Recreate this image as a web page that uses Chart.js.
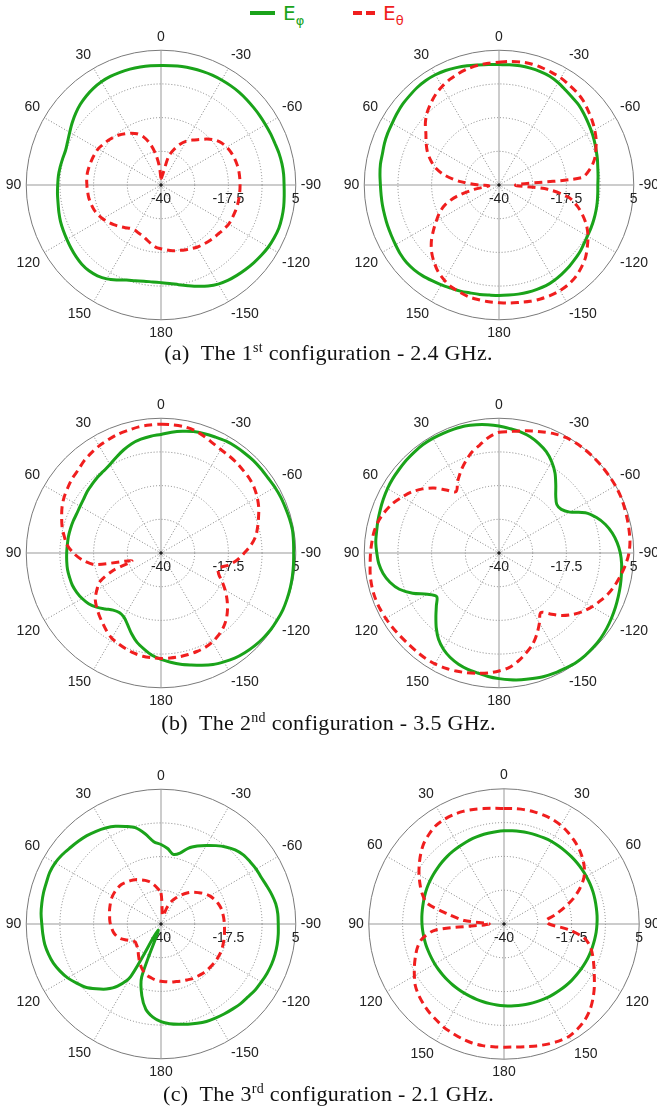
<!DOCTYPE html>
<html>
<head>
<meta charset="utf-8">
<script src="https://cdn.jsdelivr.net/npm/chart.js@4.4.0/dist/chart.umd.min.js"></script>
<style>
  body { margin: 0; background: #fff; }
  #page { position: relative; width: 657px; height: 1117px; overflow: hidden; background: #fff; }
  .plot { position: absolute; width: 320px; height: 320px; }
  .caption { position: absolute; left: 0; width: 657px; text-align: center;
             font-family: 'Liberation Serif', serif; font-size: 22px; letter-spacing: 0.3px;
             color: #111; line-height: 24px; }
  .caption sup { font-size: 14px; line-height: 0; }
  .lg-line { position: absolute; height: 4px; }
  .lg-text { position: absolute; top: 2px; font-family: 'DejaVu Sans', sans-serif; font-size: 20px; line-height: 22px; }
  .lg-text sub { font-size: 13px; line-height: 0; }
</style>
</head>
<body>
<div id="page">
  <!-- legend -->
  <div class="lg-line" style="left:250px; top:11px; width:25px; background:#1aa31a;"></div>
  <div class="lg-text" style="left:283px; color:#1aa31a;">E<sub>φ</sub></div>
  <div class="lg-line" style="left:353px; top:11px; width:9px; background:#f01e1e;"></div>
  <div class="lg-line" style="left:366px; top:11px; width:9px; background:#f01e1e;"></div>
  <div class="lg-text" style="left:383px; color:#f01e1e;">E<sub>θ</sub></div>

  <div class="plot" style="left:4px; top:26px;"><canvas id="a1" width="320" height="320"></canvas></div>
  <div class="plot" style="left:342px; top:26px;"><canvas id="a2" width="320" height="320"></canvas></div>
  <div class="caption" style="top:341px;">(a)&nbsp; The 1<sup>st</sup> configuration - 2.4 GHz.</div>

  <div class="plot" style="left:4px; top:394px;"><canvas id="b1" width="320" height="320"></canvas></div>
  <div class="plot" style="left:342px; top:394px;"><canvas id="b2" width="320" height="320"></canvas></div>
  <div class="caption" style="top:711px;">(b)&nbsp; The 2<sup>nd</sup> configuration - 3.5 GHz.</div>

  <div class="plot" style="left:4px; top:765px;"><canvas id="c1" width="320" height="320"></canvas></div>
  <div class="plot" style="left:344px; top:765px;"><canvas id="c2" width="320" height="320"></canvas></div>
  <div class="caption" style="top:1082px;">(c)&nbsp; The 3<sup>rd</sup> configuration - 2.1 GHz.</div>
</div>

<script>
// Angle tick labels, every 30 deg, going clockwise from the top
const angleTicks = ['0', '-30', '-60', '-90', '-120', '-150', '180', '150', '120', '90', '60', '30'];
const angleTicksSym = ['0', '30', '60', '90', '120', '150', '180', '150', '120', '90', '60', '30'];

// Radial scale (dB)
const rMin = -40;
const rMax = 5;
const rStep = 11.25;
const radialTicks = [-40, -17.5, 5];

// Pattern data in dB, one value every 5 deg, clockwise from the top
const ephiA1 = [-0.1,0.0,0.2,0.3,0.4,0.5,0.5,0.5,0.5,0.4,0.3,0.3,0.3,0.4,0.5,0.8,1.0,1.1,1.1,1.3,1.6,1.8,1.9,1.7,1.4,0.9,0.4,-0.1,-0.6,-1.1,-1.8,-2.8,-4.0,-5.2,-6.2,-7.0,-7.4,-7.5,-7.4,-6.9,-6.2,-5.0,-3.8,-3.0,-2.6,-2.6,-2.9,-3.3,-3.7,-4.0,-4.3,-4.7,-5.1,-5.3,-5.5,-5.6,-5.8,-6.0,-6.1,-5.6,-4.8,-3.8,-2.8,-1.9,-1.2,-0.6,-0.2,0.0,0.05,0.05,0.0,-0.05];
const ethetaA1 = [-37.75,-37.5,-36.1,-30.1,-27.4,-25.0,-23.1,-21.7,-20.2,-18.3,-16.6,-15.4,-14.7,-14.2,-13.9,-13.7,-13.6,-13.6,-13.6,-13.6,-13.6,-13.6,-13.7,-13.8,-13.9,-14.35,-14.8,-15.1,-15.4,-15.7,-16.0,-16.5,-16.9,-17.4,-17.7,-18.2,-18.7,-19.2,-20.2,-21.2,-22.0,-22.3,-22.6,-22.3,-21.4,-20.4,-19.4,-18.4,-17.5,-16.7,-16.15,-15.8,-15.5,-15.4,-15.25,-15.1,-15.1,-15.25,-15.4,-15.6,-15.8,-16.4,-16.9,-17.5,-18.2,-19.1,-20.0,-21.1,-22.9,-25.6,-29.3,-33.8];

const ephiA2 = [0.2,0.3,0.4,0.4,0.3,0.1,-0.5,-1.3,-1.9,-2.3,-3.0,-3.7,-4.3,-4.9,-5.5,-6.0,-6.5,-6.8,-7.0,-6.9,-6.7,-6.5,-6.3,-6.1,-5.9,-5.5,-4.9,-4.5,-4.0,-3.6,-3.2,-2.9,-2.9,-2.9,-3.0,-3.1,-3.1,-3.1,-2.9,-2.7,-2.3,-2.0,-1.5,-1.0,-0.4,0.05,0.3,0.2,-0.1,-0.3,-0.4,-0.5,-0.5,-0.5,-0.4,-0.1,0.2,0.3,0.7,1.0,1.2,1.6,2.0,2.2,2.5,2.6,2.5,2.2,1.7,1.2,0.7,0.4];
const ethetaA2 = [1.0,1.4,1.7,1.85,1.7,1.5,1.3,0.8,0.4,-0.2,-1.2,-2.1,-3.1,-4.2,-5.6,-7.0,-9.1,-12.4,-34.4,-23.7,-16.4,-13.0,-10.2,-7.7,-5.7,-4.0,-2.3,-1.1,-0.1,0.5,0.7,0.7,0.5,0.2,-0.2,-0.4,-0.7,-0.85,-1.1,-1.3,-1.9,-2.4,-3.4,-4.6,-6.3,-8.2,-10.5,-13.2,-15.8,-18.1,-20.9,-25.4,-31.6,-36.6,-33.3,-27.1,-21.8,-18.1,-15.7,-13.6,-11.9,-10.2,-7.9,-6.0,-4.5,-3.1,-2.0,-1.1,-0.4,0.2,0.6,0.8];

const ephiB1 = [-0.4,0.5,1.3,2.0,2.4,2.75,3.2,3.4,3.5,3.65,3.65,3.65,3.9,4.1,4.2,4.4,4.55,4.4,4.3,4.4,4.55,4.7,4.8,4.9,4.8,4.7,4.4,4.0,3.5,2.9,2.0,1.1,-0.1,-1.3,-2.3,-3.4,-4.45,-5.7,-7.4,-9.1,-11.3,-13.6,-15.25,-15.7,-15.1,-13.6,-11.9,-10.5,-9.6,-8.95,-8.5,-8.4,-8.3,-8.4,-8.5,-8.6,-8.6,-8.7,-8.8,-8.95,-8.8,-8.5,-7.9,-7.5,-7.0,-6.6,-5.9,-4.7,-3.4,-2.2,-1.4,-0.85];
const ethetaB1 = [3.0,3.0,2.9,2.5,1.6,0.6,-0.1,-0.4,-0.7,-1.1,-1.4,-2.0,-2.9,-4.0,-5.35,-6.6,-7.9,-9.85,-12.2,-14.35,-17.05,-20.1,-19.5,-17.5,-15.25,-13.1,-11.0,-9.1,-7.6,-6.5,-5.7,-5.2,-5.0,-4.9,-4.8,-4.8,-4.8,-4.9,-5.0,-5.35,-5.9,-6.5,-7.15,-8.3,-9.6,-10.75,-11.9,-13.2,-15.25,-17.5,-23.1,-29.9,-17.7,-13.6,-10.75,-8.5,-7.15,-5.8,-4.7,-3.55,-2.65,-2.0,-1.3,-0.85,0.05,0.7,1.3,1.7,2.2,2.4,2.75,2.9];

const ephiB2 = [2.4,1.7,1.1,0.2,-1.1,-2.65,-4.8,-7.4,-10.5,-13.2,-14.8,-14.6,-12.7,-8.2,-5.35,-3.2,-1.6,-0.4,0.5,1.1,1.5,1.95,2.4,2.9,3.4,3.9,4.3,4.55,4.7,4.7,4.4,4.2,3.9,3.4,3.0,2.5,1.95,1.4,0.7,0.2,-0.5,-1.5,-2.9,-4.8,-7.4,-10.2,-12.7,-14.6,-12.4,-8.2,-4.6,-2.3,-0.7,0.3,0.8,1.3,1.5,1.85,2.2,2.6,3.0,3.3,3.5,3.8,4.0,4.2,4.2,4.1,4.0,3.9,3.5,3.0];
const ethetaB2 = [0.3,0.7,1.4,2.2,3.0,3.9,4.55,4.8,4.9,4.9,4.9,4.9,4.9,4.8,4.55,4.3,4.1,3.9,3.4,2.5,1.4,0.3,-0.95,-2.5,-4.1,-5.9,-8.05,-10.5,-13.45,-15.7,-13.0,-10.1,-7.4,-5.35,-3.3,-1.6,-0.6,0.2,0.8,1.4,1.95,2.4,2.75,2.9,2.9,2.9,3.1,3.4,3.65,3.9,4.0,3.9,3.65,3.2,2.9,2.6,2.3,1.6,0.5,-0.85,-2.65,-4.45,-6.7,-9.3,-12.55,-15.0,-12.4,-9.85,-7.4,-5.1,-3.3,-1.2];

const ephiC1 = [-13.45,-14.7,-16.4,-15.5,-13.0,-11.3,-9.7,-8.05,-6.4,-5.0,-4.1,-3.7,-3.3,-3.1,-2.5,-1.75,-1.1,-0.85,-0.85,-0.7,-0.6,-0.6,-0.7,-0.95,-1.3,-1.6,-2.1,-2.4,-2.9,-3.3,-3.7,-4.1,-4.7,-5.35,-6.0,-6.6,-7.4,-8.8,-11.0,-15.25,-21.1,-37.75,-19.75,-14.7,-11.65,-9.4,-7.15,-5.6,-4.0,-2.8,-1.75,-1.1,-0.6,-0.4,-0.2,0.2,0.4,0.6,0.7,0.95,0.8,0.3,-0.4,-0.95,-1.5,-2.2,-3.0,-4.0,-5.35,-6.7,-9.4,-12.4];
const ethetaC1 = [-29.65,-35.5,-37.2,-36.85,-34.15,-31.6,-29.9,-28.2,-26.5,-25.0,-23.7,-22.3,-21.2,-20.4,-19.75,-19.3,-19.1,-18.95,-18.85,-18.7,-18.5,-18.3,-18.1,-17.95,-17.95,-17.95,-18.1,-18.2,-18.4,-18.7,-18.95,-19.4,-19.75,-20.1,-20.3,-20.65,-20.9,-21.2,-21.7,-22.2,-23.1,-24.25,-25.6,-26.95,-28.1,-28.9,-29.3,-29.5,-28.75,-27.4,-25.7,-24.6,-23.9,-23.5,-23.1,-22.8,-22.6,-22.2,-21.9,-21.55,-21.3,-21.2,-21.2,-21.3,-21.8,-22.3,-22.9,-23.7,-24.5,-25.4,-26.7,-28.2];

const ephiC2 = [-9.0,-8.85,-8.7,-8.6,-8.5,-8.4,-8.3,-8.3,-8.3,-8.3,-8.3,-8.3,-8.35,-8.4,-8.5,-8.65,-8.8,-8.9,-9.05,-9.2,-9.4,-9.6,-9.8,-10.0,-10.25,-10.5,-10.7,-10.95,-11.2,-11.4,-11.6,-11.85,-12.05,-12.25,-12.45,-12.6,-12.8,-12.95,-13.1,-13.2,-13.3,-13.4,-13.45,-13.5,-13.5,-13.5,-13.5,-13.45,-13.4,-13.35,-13.25,-13.1,-13.0,-12.85,-12.7,-12.55,-12.4,-12.2,-11.95,-11.7,-11.5,-11.3,-11.1,-10.85,-10.6,-10.4,-10.2,-9.95,-9.7,-9.5,-9.35,-9.2];
const ethetaC2 = [-1.55,-1.45,-1.35,-1.35,-1.45,-1.65,-2.1,-2.8,-3.7,-4.65,-5.9,-7.35,-9.3,-12.2,-15.55,-19.45,-22.8,-25.9,-25.0,-18.3,-12.8,-10.2,-8.55,-7.0,-5.3,-3.3,-1.35,0.45,1.8,2.65,3.2,3.0,2.55,2.0,1.45,1.1,1.0,1.0,1.1,1.0,0.65,0.2,-0.2,-0.9,-1.45,-2.2,-3.0,-4.0,-5.55,-7.1,-8.65,-10.2,-12.45,-17.2,-35.0,-26.7,-21.1,-13.6,-11.1,-9.2,-7.35,-5.55,-3.8,-2.2,-1.1,-0.2,0.1,0.1,-0.1,-0.55,-1.0,-1.35];

const GREEN = '#1aa31a';
const RED = '#f01e1e';
const SAMPLES_PER_TICK = 6; // 5 deg samples, 30 deg ticks

// one label per sample, only every 30 deg gets text
function buildLabels(ticks) {
    const out = [];
    ticks.forEach(t => {
        out.push(t);
        for (let i = 1; i < SAMPLES_PER_TICK; i++) out.push('');
    });
    return out;
}

// radial value labels under the right-hand axis, plus the centre dot
const radialLabelsPlugin = {
    id: 'radialLabels',
    beforeDatasetsDraw(chart) {
        const s = chart.scales.r;
        const ctx = chart.ctx;
        ctx.save();
        ctx.font = '14px "Liberation Sans", Arial, sans-serif';
        ctx.fillStyle = '#222';
        ctx.textAlign = 'center';
        ctx.textBaseline = 'middle';
        radialTicks.forEach(v => {
            ctx.fillText(String(v), s.xCenter + s.getDistanceFromCenterForValue(v), s.yCenter + 14);
        });
        ctx.beginPath();
        ctx.arc(s.xCenter, s.yCenter, 1.8, 0, Math.PI * 2);
        ctx.fill();
        ctx.restore();
    }
};

function createPolar(id, ephi, etheta, ticks, pad) {
    const ctx = document.getElementById(id).getContext('2d');
    return new Chart(ctx, {
        type: 'radar',
        data: {
            labels: buildLabels(ticks),
            datasets: [
                {
                    label: 'Eθ',
                    data: etheta,
                    borderColor: RED,
                    borderWidth: 3,
                    borderDash: [8, 5],
                    pointRadius: 0,
                    fill: false,
                    tension: 0.3
                },
                {
                    label: 'Eφ',
                    data: ephi,
                    borderColor: GREEN,
                    borderWidth: 3,
                    pointRadius: 0,
                    fill: false,
                    tension: 0.3
                }
            ]
        },
        options: {
            responsive: false,
            animation: false,
            devicePixelRatio: 1,
            layout: { padding: pad },
            plugins: {
                legend: { display: false },
                tooltip: { enabled: false }
            },
            scales: {
                r: {
                    min: rMin,
                    max: rMax,
                    ticks: { display: false, stepSize: rStep },
                    grid: {
                        circular: true,
                        color: c => c.index === 4 ? '#7a7a7a' : '#808080',
                        lineWidth: 1
                    },
                    border: {
                        dash: c => c.index === 4 ? [] : [1, 2]
                    },
                    angleLines: {
                        color: c => c.index % 18 === 0 ? '#999999' : '#808080',
                        lineWidth: c => c.index % SAMPLES_PER_TICK === 0 ? 1 : 0,
                        borderDash: c => c.index % 18 === 0 ? [] : [1, 2]
                    },
                    pointLabels: {
                        color: '#222',
                        padding: 5,
                        font: { family: 'Liberation Sans', size: 14 }
                    }
                }
            }
        },
        plugins: [radialLabelsPlugin]
    });
}

createPolar('a1', ephiA1, ethetaA1, angleTicks, 0);
createPolar('a2', ephiA2, ethetaA2, angleTicks, 0);
createPolar('b1', ephiB1, ethetaB1, angleTicks, 0);
createPolar('b2', ephiB2, ethetaB2, angleTicks, 0);
createPolar('c1', ephiC1, ethetaC1, angleTicks, 0);
createPolar('c2', ephiC2, ethetaC2, angleTicksSym, 3);
</script>
</body>
</html>
